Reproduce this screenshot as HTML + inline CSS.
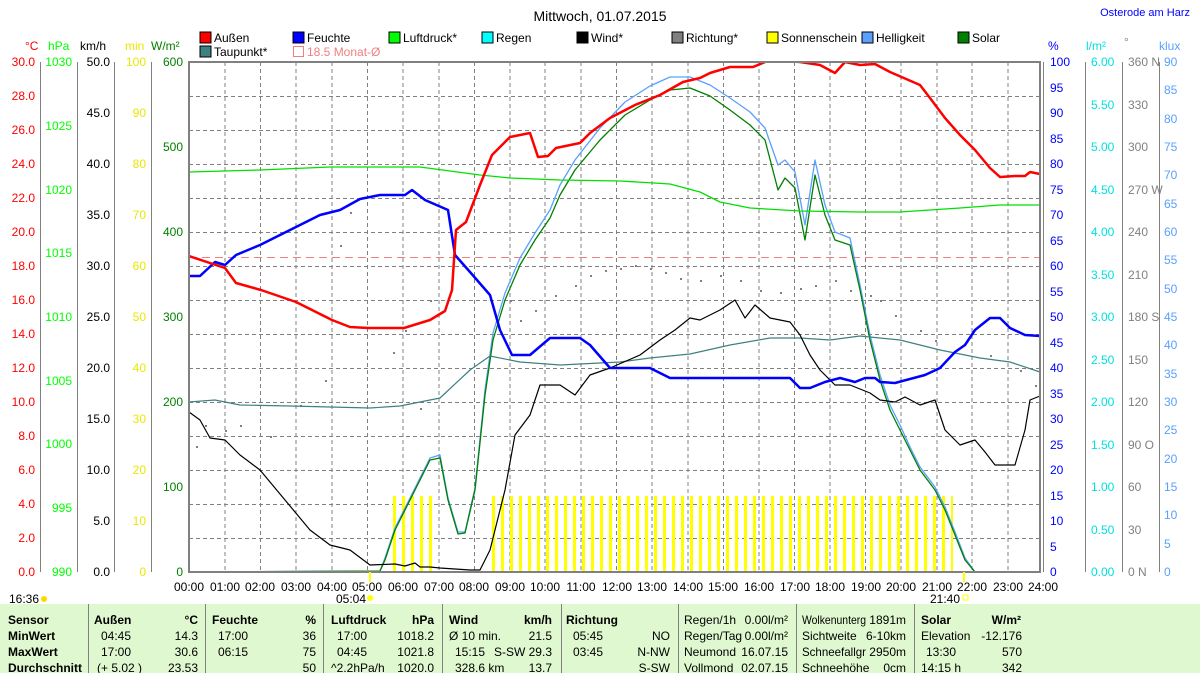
<!DOCTYPE html><html><head><meta charset="utf-8"><style>
body{margin:0;width:1200px;height:673px;overflow:hidden;background:#fff;font-family:"Liberation Sans",sans-serif}
svg text{font-family:"Liberation Sans",sans-serif;font-size:12px}
</style></head><body>
<svg width="1200" height="673" xmlns="http://www.w3.org/2000/svg">
<defs>
<pattern id="bars" x="393" y="0" width="9" height="10" patternUnits="userSpaceOnUse"><rect x="0" y="0" width="3" height="10" fill="#ffff00"/></pattern>
<clipPath id="pc"><rect x="189" y="61" width="852" height="512"/></clipPath>
</defs>
<text x="600" y="21" text-anchor="middle" style="font-size:14px">Mittwoch, 01.07.2015</text>
<text x="1190" y="16" text-anchor="end" fill="#0000ff" style="font-size:11px">Osterode am Harz</text>
<g stroke="#000" stroke-width="1">
<rect x="200" y="32" width="11" height="11" fill="#ff0000"/>
<rect x="293" y="32" width="11" height="11" fill="#0000ff"/>
<rect x="389" y="32" width="11" height="11" fill="#00ff00"/>
<rect x="482" y="32" width="11" height="11" fill="#00ffff"/>
<rect x="577" y="32" width="11" height="11" fill="#000"/>
<rect x="672" y="32" width="11" height="11" fill="#808080"/>
<rect x="767" y="32" width="11" height="11" fill="#ffff00"/>
<rect x="862" y="32" width="11" height="11" fill="#5aa0ff"/>
<rect x="958" y="32" width="11" height="11" fill="#008000"/>
<rect x="200" y="46" width="11" height="11" fill="#408080"/>
</g>
<rect x="293.5" y="46.5" width="10" height="10" fill="none" stroke="#f08080"/>
<g>
<text x="214" y="42">Außen</text><text x="307" y="42">Feuchte</text><text x="403" y="42">Luftdruck*</text><text x="496" y="42">Regen</text><text x="591" y="42">Wind*</text><text x="686" y="42">Richtung*</text><text x="781" y="42">Sonnenschein</text><text x="876" y="42">Helligkeit</text><text x="972" y="42">Solar</text>
<text x="214" y="56">Taupunkt*</text><text x="307" y="56" fill="#f08080">18.5 Monat-Ø</text>
</g>
<text x="25" y="50" fill="#ff0000">°C</text><text x="48" y="50" fill="#00ff00">hPa</text><text x="80" y="50">km/h</text><text x="125" y="50" fill="#e8e800">min</text><text x="151" y="50" fill="#008000">W/m²</text>
<text x="1048" y="50" fill="#0000ff">%</text><text x="1086" y="50" fill="#00e0e0">l/m²</text><text x="1124" y="46" fill="#808080">°</text><text x="1159" y="50" fill="#5aa0ff">klux</text>
<g stroke="#808080" stroke-width="1">
<line x1="40.5" y1="62" x2="40.5" y2="572"/><line x1="77.5" y1="62" x2="77.5" y2="572"/><line x1="114.5" y1="62" x2="114.5" y2="572"/><line x1="151.5" y1="62" x2="151.5" y2="572"/>
<line x1="1085.5" y1="62" x2="1085.5" y2="572"/><line x1="1122.5" y1="62" x2="1122.5" y2="572"/><line x1="1159.5" y1="62" x2="1159.5" y2="572"/><line x1="1043.5" y1="62" x2="1043.5" y2="572"/>
</g>
<g fill="#ff0000" text-anchor="end">
<text x="35" y="66">30.0</text><text x="35" y="100">28.0</text><text x="35" y="134">26.0</text><text x="35" y="168">24.0</text><text x="35" y="202">22.0</text><text x="35" y="236">20.0</text><text x="35" y="270">18.0</text><text x="35" y="304">16.0</text><text x="35" y="338">14.0</text><text x="35" y="372">12.0</text><text x="35" y="406">10.0</text><text x="35" y="440">8.0</text><text x="35" y="474">6.0</text><text x="35" y="508">4.0</text><text x="35" y="542">2.0</text><text x="35" y="576">0.0</text>
</g>
<g fill="#00ff00" text-anchor="end">
<text x="72" y="66">1030</text><text x="72" y="130">1025</text><text x="72" y="194">1020</text><text x="72" y="257">1015</text><text x="72" y="321">1010</text><text x="72" y="385">1005</text><text x="72" y="448">1000</text><text x="72" y="512">995</text><text x="72" y="576">990</text>
</g>
<g text-anchor="end">
<text x="110" y="66">50.0</text><text x="110" y="117">45.0</text><text x="110" y="168">40.0</text><text x="110" y="219">35.0</text><text x="110" y="270">30.0</text><text x="110" y="321">25.0</text><text x="110" y="372">20.0</text><text x="110" y="423">15.0</text><text x="110" y="474">10.0</text><text x="110" y="525">5.0</text><text x="110" y="576">0.0</text>
</g>
<g fill="#e8e800" text-anchor="end">
<text x="146" y="66">100</text><text x="146" y="117">90</text><text x="146" y="168">80</text><text x="146" y="219">70</text><text x="146" y="270">60</text><text x="146" y="321">50</text><text x="146" y="372">40</text><text x="146" y="423">30</text><text x="146" y="474">20</text><text x="146" y="525">10</text><text x="146" y="576">0</text>
</g>
<g fill="#008000" text-anchor="end">
<text x="183" y="66">600</text><text x="183" y="151">500</text><text x="183" y="236">400</text><text x="183" y="321">300</text><text x="183" y="406">200</text><text x="183" y="491">100</text><text x="183" y="576">0</text>
</g>
<g fill="#0000ff">
<text x="1050" y="66">100</text><text x="1050" y="92">95</text><text x="1050" y="117">90</text><text x="1050" y="143">85</text><text x="1050" y="168">80</text><text x="1050" y="194">75</text><text x="1050" y="219">70</text><text x="1050" y="245">65</text><text x="1050" y="270">60</text><text x="1050" y="296">55</text><text x="1050" y="321">50</text><text x="1050" y="347">45</text><text x="1050" y="372">40</text><text x="1050" y="398">35</text><text x="1050" y="423">30</text><text x="1050" y="449">25</text><text x="1050" y="474">20</text><text x="1050" y="500">15</text><text x="1050" y="525">10</text><text x="1050" y="551">5</text><text x="1050" y="576">0</text>
</g>
<g fill="#00e0e0">
<text x="1091" y="66">6.00</text><text x="1091" y="109">5.50</text><text x="1091" y="151">5.00</text><text x="1091" y="194">4.50</text><text x="1091" y="236">4.00</text><text x="1091" y="279">3.50</text><text x="1091" y="321">3.00</text><text x="1091" y="364">2.50</text><text x="1091" y="406">2.00</text><text x="1091" y="449">1.50</text><text x="1091" y="491">1.00</text><text x="1091" y="534">0.50</text><text x="1091" y="576">0.00</text>
</g>
<g fill="#808080">
<text x="1128" y="66">360 N</text><text x="1128" y="109">330</text><text x="1128" y="151">300</text><text x="1128" y="194">270 W</text><text x="1128" y="236">240</text><text x="1128" y="279">210</text><text x="1128" y="321">180 S</text><text x="1128" y="364">150</text><text x="1128" y="406">120</text><text x="1128" y="449">90 O</text><text x="1128" y="491">60</text><text x="1128" y="534">30</text><text x="1128" y="576">0 N</text>
</g>
<g fill="#5aa0ff">
<text x="1164" y="66">90</text><text x="1164" y="94">85</text><text x="1164" y="123">80</text><text x="1164" y="151">75</text><text x="1164" y="179">70</text><text x="1164" y="208">65</text><text x="1164" y="236">60</text><text x="1164" y="264">55</text><text x="1164" y="293">50</text><text x="1164" y="321">45</text><text x="1164" y="349">40</text><text x="1164" y="378">35</text><text x="1164" y="406">30</text><text x="1164" y="434">25</text><text x="1164" y="463">20</text><text x="1164" y="491">15</text><text x="1164" y="519">10</text><text x="1164" y="548">5</text><text x="1164" y="576">0</text>
</g>
<g stroke="#808080" stroke-dasharray="4,3" stroke-width="1">
<path d="M189 96.5H1041M189 130.5H1041M189 164.5H1041M189 198.5H1041M189 232.5H1041M189 266.5H1041M189 300.5H1041M189 334.5H1041M189 368.5H1041M189 402.5H1041M189 436.5H1041M189 470.5H1041M189 504.5H1041M189 538.5H1041"/>
<path d="M225 62V572M260.5 62V572M296 62V572M332 62V572M367.5 62V572M403 62V572M439 62V572M474.5 62V572M510 62V572M545 62V572M581 62V572M616.5 62V572M652 62V572M688 62V572M723.5 62V572M759 62V572M794.5 62V572M830 62V572M865.5 62V572M901 62V572M937 62V572M972 62V572M1008 62V572"/>
</g>
<line x1="189" y1="257.5" x2="1040" y2="257.5" stroke="#f08080" stroke-dasharray="8,5"/>
<rect x="393" y="496" width="40" height="76" fill="url(#bars)"/>
<rect x="492" y="496" width="461" height="76" fill="url(#bars)"/>
<g clip-path="url(#pc)" fill="none" stroke-linejoin="round">
<g fill="#808080" stroke="none">
<rect x="196" y="446" width="2" height="2"/><rect x="205" y="425" width="2" height="2"/><rect x="225" y="430" width="2" height="2"/><rect x="240" y="425" width="2" height="2"/><rect x="270" y="436" width="2" height="2"/><rect x="300" y="405" width="2" height="2"/><rect x="325" y="380" width="2" height="2"/><rect x="340" y="245" width="2" height="2"/><rect x="350" y="212" width="2" height="2"/><rect x="393" y="352" width="2" height="2"/><rect x="405" y="330" width="2" height="2"/><rect x="430" y="300" width="2" height="2"/><rect x="420" y="408" width="2" height="2"/><rect x="510" y="300" width="2" height="2"/><rect x="520" y="320" width="2" height="2"/><rect x="535" y="310" width="2" height="2"/><rect x="555" y="295" width="2" height="2"/><rect x="575" y="285" width="2" height="2"/><rect x="590" y="275" width="2" height="2"/><rect x="605" y="270" width="2" height="2"/><rect x="620" y="268" width="2" height="2"/><rect x="635" y="265" width="2" height="2"/><rect x="650" y="268" width="2" height="2"/><rect x="665" y="272" width="2" height="2"/><rect x="680" y="278" width="2" height="2"/><rect x="700" y="280" width="2" height="2"/><rect x="720" y="275" width="2" height="2"/><rect x="740" y="280" width="2" height="2"/><rect x="760" y="290" width="2" height="2"/><rect x="780" y="292" width="2" height="2"/><rect x="800" y="288" width="2" height="2"/><rect x="815" y="285" width="2" height="2"/><rect x="835" y="280" width="2" height="2"/><rect x="850" y="290" width="2" height="2"/><rect x="870" y="295" width="2" height="2"/><rect x="880" y="300" width="2" height="2"/><rect x="895" y="315" width="2" height="2"/><rect x="920" y="330" width="2" height="2"/><rect x="935" y="340" width="2" height="2"/><rect x="990" y="355" width="2" height="2"/><rect x="1020" y="370" width="2" height="2"/><rect x="1035" y="385" width="2" height="2"/>
</g>
<polyline stroke="#5aa0ff" stroke-width="1.3" points="189,572 380,571 385,558 395,528 410,498 420,478 430,458 440,455 448,498 458,532 465,532 475,488 485,390 493,333 505,293 520,258 535,233 550,210 560,185 575,160 600,128 625,102 650,86 670,77 690,77 710,85 730,98 750,112 765,128 778,165 785,160 795,172 805,225 815,160 825,205 835,232 850,238 860,285 870,335 880,375 890,405 900,425 910,447 920,467 935,487 945,507 955,532 965,558 975,572 1040,572"/>
<polyline stroke="#008000" stroke-width="1.3" points="189,572 380,571 385,560 395,530 410,500 420,480 430,460 440,458 448,500 458,534 465,533 475,490 485,395 493,340 505,300 520,265 535,240 550,218 560,195 575,170 600,140 625,115 650,100 670,90 690,88 710,96 730,110 750,125 765,140 778,190 785,178 795,188 805,240 815,175 825,215 835,240 850,245 860,290 870,340 880,380 890,410 900,430 910,450 920,470 935,490 945,510 955,535 965,560 975,572 1040,572"/>
<polyline stroke="#408080" stroke-width="1.2" points="189,402 215,400 240,405 290,406 330,407 370,408 400,406 440,398 470,370 490,356 520,362 560,365 620,362 650,358 690,354 730,345 770,338 800,338 830,340 860,336 900,340 940,350 980,358 1010,362 1040,372"/>
<polyline stroke="#00e000" stroke-width="1.3" points="189,172 260,170 330,167 420,167 480,175 510,178 560,180 620,181 670,184 700,192 720,202 750,208 800,211 860,212 900,212 960,208 1000,205 1040,205"/>
<polyline stroke="#000" stroke-width="1.2" points="189,412 200,420 210,438 225,440 240,455 260,470 285,500 310,530 330,545 350,550 370,565 395,564 405,566 415,563 420,567 430,567 440,568 470,570 480,570 490,550 505,490 515,435 530,415 540,385 560,385 575,395 590,375 610,368 640,355 660,340 675,330 690,318 700,320 720,310 735,300 745,318 755,305 770,318 790,322 800,335 810,355 820,370 835,385 850,385 870,393 880,400 895,402 905,397 920,405 935,400 945,430 960,445 975,440 985,452 995,465 1015,465 1025,430 1030,400 1040,396"/>
<polyline stroke="#0000ff" stroke-width="2.5" points="189,276 200,276 215,262 225,265 236,255 260,245 280,235 300,225 320,215 340,210 360,199 380,195 405,195 412,190 425,200 448,210 455,255 470,272 490,295 500,330 512,355 530,355 550,338 580,338 590,345 610,368 650,368 670,378 790,378 800,388 810,388 825,382 840,378 855,382 865,378 875,378 880,382 895,383 925,375 940,368 955,352 965,345 975,330 990,318 1000,318 1010,328 1025,335 1040,336"/>
<polyline stroke="#ff0000" stroke-width="2.5" points="189,256 225,268 236,283 261,290 296,302 332,320 350,327 368,328 404,328 430,320 445,311 452,290 456,230 466,222 480,185 492,155 510,137 530,133 538,157 548,156 556,148 580,143 590,133 610,118 635,105 660,95 683,82 700,78 710,73 730,67 753,67 770,60 800,62 820,65 835,73 845,62 860,65 875,64 890,72 920,85 930,98 945,118 960,135 975,150 990,168 1000,177 1015,176 1025,176 1030,172 1040,174"/>
</g>
<rect x="189" y="62" width="851" height="510" fill="none" stroke="#808080" stroke-width="2"/>
<g text-anchor="middle">
<text x="189" y="591">00:00</text><text x="225" y="591">01:00</text><text x="260" y="591">02:00</text><text x="296" y="591">03:00</text><text x="332" y="591">04:00</text><text x="367" y="591">05:00</text><text x="403" y="591">06:00</text><text x="439" y="591">07:00</text><text x="474" y="591">08:00</text><text x="510" y="591">09:00</text><text x="545" y="591">10:00</text><text x="581" y="591">11:00</text><text x="617" y="591">12:00</text><text x="652" y="591">13:00</text><text x="688" y="591">14:00</text><text x="723" y="591">15:00</text><text x="759" y="591">16:00</text><text x="795" y="591">17:00</text><text x="830" y="591">18:00</text><text x="866" y="591">19:00</text><text x="901" y="591">20:00</text><text x="937" y="591">21:00</text><text x="972" y="591">22:00</text><text x="1008" y="591">23:00</text><text x="1043" y="591">24:00</text>
</g>
<line x1="370" y1="572" x2="370" y2="582" stroke="#ffff00" stroke-width="2"/>
<line x1="964" y1="572" x2="964" y2="582" stroke="#ffff00" stroke-width="2"/>
<text x="9" y="603">16:36</text><circle cx="44" cy="599" r="3" fill="#ffd800"/>
<text x="336" y="603">05:04</text><circle cx="370" cy="598" r="3" fill="#ffff00"/>
<text x="930" y="603">21:40</text><rect x="963" y="595" width="5" height="5" fill="none" stroke="#ffff00"/>
<rect x="0" y="604" width="1200" height="69" fill="#e0f8d0"/>
<g stroke="#808080"><path d="M88.5 604V673M205.5 604V673M323.5 604V673M442.5 604V673M561.5 604V673M678.5 604V673M796.5 604V673M914.5 604V673"/></g>
<g>
<g font-weight="bold"><text x="8" y="624">Sensor</text><text x="8" y="640">MinWert</text><text x="8" y="656">MaxWert</text><text x="8" y="672">Durchschnitt</text>
<text x="94" y="624">Außen</text><text x="198" y="624" text-anchor="end">°C</text><text x="212" y="624">Feuchte</text><text x="316" y="624" text-anchor="end">%</text><text x="331" y="624">Luftdruck</text><text x="434" y="624" text-anchor="end">hPa</text><text x="449" y="624">Wind</text><text x="552" y="624" text-anchor="end">km/h</text><text x="566" y="624">Richtung</text><text x="921" y="624">Solar</text><text x="1021" y="624" text-anchor="end">W/m²</text></g>
<text x="101" y="640">04:45</text><text x="198" y="640" text-anchor="end">14.3</text><text x="101" y="656">17:00</text><text x="198" y="656" text-anchor="end">30.6</text><text x="97" y="672">(+ 5.02 )</text><text x="198" y="672" text-anchor="end">23.53</text>
<text x="218" y="640">17:00</text><text x="316" y="640" text-anchor="end">36</text><text x="218" y="656">06:15</text><text x="316" y="656" text-anchor="end">75</text><text x="316" y="672" text-anchor="end">50</text>
<text x="337" y="640">17:00</text><text x="434" y="640" text-anchor="end">1018.2</text><text x="337" y="656">04:45</text><text x="434" y="656" text-anchor="end">1021.8</text><text x="331" y="672">^2.2hPa/h</text><text x="434" y="672" text-anchor="end">1020.0</text>
<text x="449" y="640">Ø 10 min.</text><text x="552" y="640" text-anchor="end">21.5</text><text x="455" y="656">15:15</text><text x="552" y="656" text-anchor="end">S-SW 29.3</text><text x="455" y="672">328.6 km</text><text x="552" y="672" text-anchor="end">13.7</text>
<text x="573" y="640">05:45</text><text x="670" y="640" text-anchor="end">NO</text><text x="573" y="656">03:45</text><text x="670" y="656" text-anchor="end">N-NW</text><text x="670" y="672" text-anchor="end">S-SW</text>
<text x="684" y="624">Regen/1h</text><text x="788" y="624" text-anchor="end">0.00l/m²</text><text x="684" y="640">Regen/Tag</text><text x="788" y="640" text-anchor="end">0.00l/m²</text><text x="684" y="656">Neumond</text><text x="788" y="656" text-anchor="end">16.07.15</text><text x="684" y="672">Vollmond</text><text x="788" y="672" text-anchor="end">02.07.15</text>
<text x="802" y="624" textLength="64" lengthAdjust="spacingAndGlyphs">Wolkenunterg</text><text x="906" y="624" text-anchor="end">1891m</text><text x="802" y="640">Sichtweite</text><text x="906" y="640" text-anchor="end">6-10km</text><text x="802" y="656" textLength="64" lengthAdjust="spacingAndGlyphs">Schneefallgr</text><text x="906" y="656" text-anchor="end">2950m</text><text x="802" y="672">Schneehöhe</text><text x="906" y="672" text-anchor="end">0cm</text>
<text x="921" y="640">Elevation</text><text x="1022" y="640" text-anchor="end">-12.176</text><text x="926" y="656">13:30</text><text x="1022" y="656" text-anchor="end">570</text><text x="921" y="672">14:15 h</text><text x="1022" y="672" text-anchor="end">342</text>
</g>
</svg>
</body></html>
